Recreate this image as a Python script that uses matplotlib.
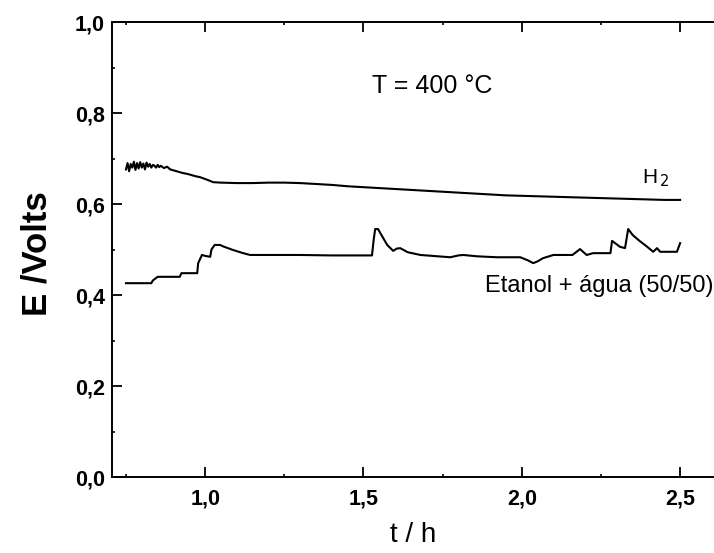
import matplotlib
matplotlib.use("Agg")
import matplotlib.pyplot as plt
from matplotlib.ticker import MultipleLocator, FixedLocator, FixedFormatter

# ---- data ----
h2_t = [0.750, 0.755, 0.760, 0.765, 0.770, 0.775, 0.780, 0.785, 0.790, 0.795,
        0.800, 0.805, 0.810, 0.815, 0.820, 0.825, 0.830, 0.835, 0.840, 0.845,
        0.850, 0.855, 0.860, 0.870, 0.880, 0.890, 0.900, 0.910, 0.920, 0.930,
        0.945, 0.960, 0.970, 0.984, 1.000, 1.015, 1.025, 1.050, 1.100, 1.150,
        1.200, 1.250, 1.300, 1.350, 1.400, 1.450, 1.500, 1.550, 1.600, 1.650,
        1.700, 1.750, 1.800, 1.850, 1.900, 1.950, 2.000, 2.050, 2.100, 2.150,
        2.200, 2.250, 2.300, 2.350, 2.400, 2.450, 2.500]
h2_E = [0.676, 0.690, 0.672, 0.688, 0.680, 0.693, 0.675, 0.690, 0.678, 0.692,
        0.680, 0.689, 0.676, 0.691, 0.682, 0.688, 0.680, 0.686, 0.684, 0.680,
        0.686, 0.681, 0.684, 0.679, 0.682, 0.676, 0.674, 0.672, 0.670, 0.668,
        0.666, 0.663, 0.661, 0.659, 0.655, 0.651, 0.648, 0.647, 0.646, 0.646,
        0.647, 0.647, 0.646, 0.644, 0.642, 0.639, 0.637, 0.635, 0.633, 0.631,
        0.629, 0.627, 0.625, 0.623, 0.621, 0.619, 0.618, 0.617, 0.616, 0.615,
        0.614, 0.613, 0.612, 0.611, 0.610, 0.609, 0.609]

et_t = [0.750, 0.830, 0.835, 0.850, 0.920, 0.925, 0.975, 0.978, 0.990, 1.000,
        1.016, 1.020, 1.030, 1.047, 1.060, 1.088, 1.120, 1.142, 1.300, 1.400,
        1.527, 1.532, 1.537, 1.546, 1.560, 1.575, 1.594, 1.605, 1.616, 1.640,
        1.680, 1.774, 1.800, 1.815, 1.860, 1.922, 1.995, 2.020, 2.036, 2.050,
        2.067, 2.100, 2.160, 2.184, 2.195, 2.205, 2.225, 2.280, 2.285, 2.310,
        2.326, 2.336, 2.350, 2.370, 2.396, 2.415, 2.427, 2.437, 2.490, 2.500]
et_E = [0.426, 0.426, 0.432, 0.440, 0.440, 0.448, 0.448, 0.470, 0.488, 0.486,
        0.484, 0.500, 0.510, 0.510, 0.506, 0.499, 0.492, 0.488, 0.488, 0.487,
        0.487, 0.520, 0.545, 0.545, 0.528, 0.510, 0.497, 0.502, 0.503, 0.494,
        0.488, 0.483, 0.487, 0.488, 0.485, 0.483, 0.483, 0.476, 0.470, 0.474,
        0.481, 0.488, 0.488, 0.501, 0.494, 0.488, 0.492, 0.492, 0.519, 0.506,
        0.503, 0.545, 0.532, 0.520, 0.506, 0.495, 0.503, 0.495, 0.495, 0.514]

x_ticks = [1.0, 1.5, 2.0, 2.5]
x_tick_labels = ["1,0", "1,5", "2,0", "2,5"]
y_ticks = [0.0, 0.2, 0.4, 0.6, 0.8, 1.0]
y_tick_labels = ["0,0", "0,2", "0,4", "0,6", "0,8", "1,0"]

# ---- figure ----
fig = plt.figure(figsize=(7.14, 5.53), dpi=100)
ax = fig.add_axes([0.1569, 0.1374, 0.8431, 0.8228])

ax.plot(h2_t, h2_E, color="black", lw=1.5)
ax.plot(et_t, et_E, color="black", lw=1.5)

ax.set_xlim(0.706, 2.607)
ax.set_ylim(0.0, 1.0)

ax.xaxis.set_major_locator(FixedLocator(x_ticks))
ax.xaxis.set_major_formatter(FixedFormatter(x_tick_labels))
ax.yaxis.set_major_locator(FixedLocator(y_ticks))
ax.yaxis.set_major_formatter(FixedFormatter(y_tick_labels))
ax.xaxis.set_minor_locator(MultipleLocator(0.25))
ax.yaxis.set_minor_locator(MultipleLocator(0.1))

ax.tick_params(which="major", direction="in", length=7, width=1.3,
               top=True, right=False, labelsize=15.5)
ax.tick_params(axis="x", which="major", pad=8)
ax.tick_params(axis="y", which="major", pad=5)
ax.tick_params(which="minor", direction="in", length=2.5, width=1.2,
               top=True, right=False)
for lab in ax.get_xticklabels() + ax.get_yticklabels():
    lab.set_fontweight("bold")
    lab.set_family("Liberation Sans")

ax.spines["right"].set_visible(False)
for s in ["left", "bottom", "top"]:
    ax.spines[s].set_linewidth(1.4)

ax.set_ylabel("E /Volts", fontsize=25, fontweight="bold", family="Liberation Sans")
ax.yaxis.set_label_coords(-0.098, 0.49)
ax.set_xlabel("t / h", fontsize=20, family="Liberation Sans")
ax.xaxis.set_label_coords(0.5, -0.098)

ax.text(1.527, 0.844, "T = 400 °C", fontsize=18, family="Liberation Sans",
        ha="left", va="baseline")
ax.text(2.38, 0.646, "H$_{\\,2}$", fontsize=15, family="Liberation Sans",
        ha="left", va="baseline")
ax.text(1.884, 0.407, "Etanol + água (50/50)", fontsize=17,
        family="Liberation Sans", ha="left", va="baseline")

fig.savefig("out.png", dpi=100)
